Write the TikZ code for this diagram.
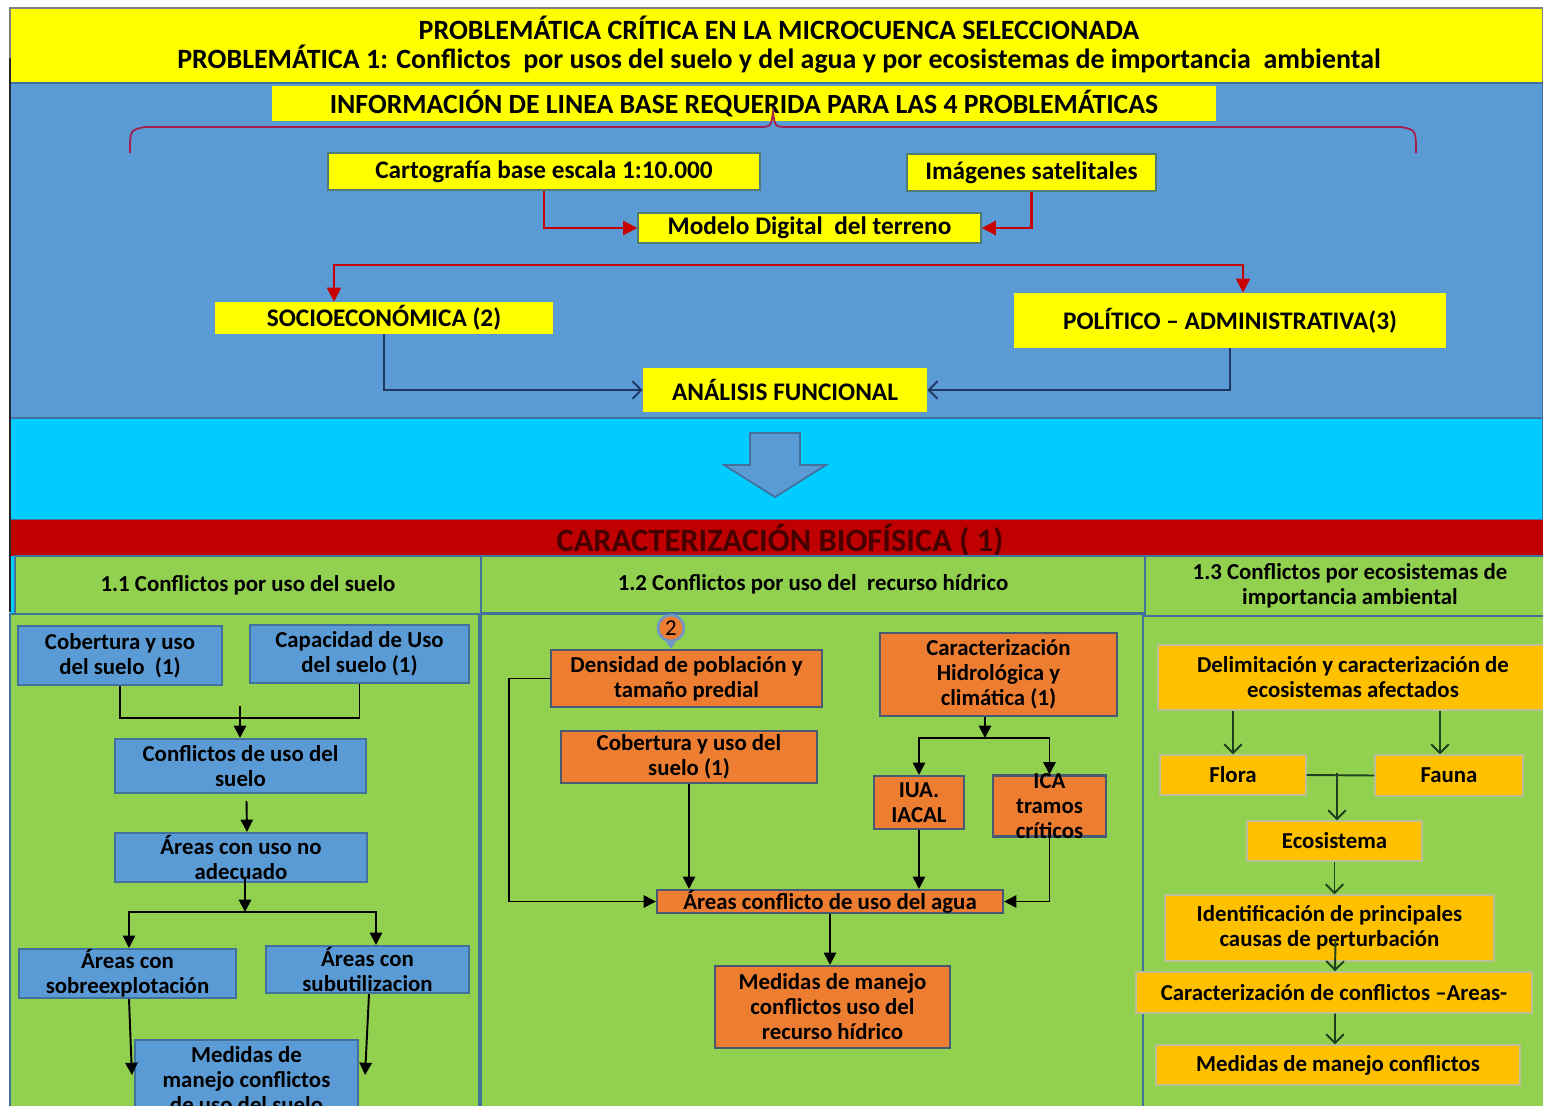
\documentclass[tikz,border=0pt]{standalone}
\usepackage{fontspec}
\setmainfont{Carlito}
\usetikzlibrary{arrows.meta}
\definecolor{bandyellow}{RGB}{255,255,0}
\definecolor{regionblue}{RGB}{91,155,213}
\definecolor{edgeblue}{RGB}{65,113,156}
\definecolor{tealedge}{RGB}{80,125,115}
\definecolor{skycyan}{RGB}{0,204,255}
\definecolor{bandred}{RGB}{192,0,0}
\definecolor{titlered}{RGB}{70,0,0}
\definecolor{leafgreen}{RGB}{146,208,80}
\definecolor{waterorange}{RGB}{237,125,49}
\definecolor{slateedge}{RGB}{70,90,115}
\definecolor{ringblue}{RGB}{110,150,200}
\definecolor{ecogold}{RGB}{255,192,0}
\definecolor{goldedge}{RGB}{190,190,150}
\definecolor{bracered}{RGB}{165,30,75}
\definecolor{arrowred}{RGB}{200,0,0}
\definecolor{navyline}{RGB}{31,56,100}
\definecolor{ecodark}{RGB}{30,65,30}

\begin{document}
\begin{tikzpicture}[
    x=0.02cm, y=-0.02cm,
    font=\bfseries\fontsize{13}{14.2}\selectfont,
    sz/.style 2 args={minimum width=#1*0.02cm, minimum height=#2*0.02cm},
    plainbox/.style={inner sep=0pt, align=center, text=black},
    ybox/.style={plainbox, fill=bandyellow, draw=tealedge, line width=0.8pt, font=\bfseries\fontsize{14.4}{15.5}\selectfont},
    ybare/.style={plainbox, fill=bandyellow, font=\bfseries\fontsize{14.4}{15.5}\selectfont},
    colhead/.style={plainbox, fill=leafgreen, draw=edgeblue, line width=1pt},
    bbox/.style={plainbox, fill=regionblue, draw=edgeblue, line width=1.2pt},
    obox/.style={plainbox, fill=waterorange, draw=slateedge, line width=1.2pt},
    gbox/.style={plainbox, fill=ecogold, draw=goldedge, line width=0.8pt},
    redarrow/.style={-{Triangle[length=8pt,width=8pt]}, draw=arrowred, line width=1.2pt},
    navyarrow/.style={-{Straight Barb[length=5pt,width=10pt]}, draw=navyline, line width=1.1pt},
    blkline/.style={draw=black, line width=1.1pt},
    blkarrow/.style={blkline, -{Triangle[length=7pt,width=7pt]}},
    ecoline/.style={draw=ecodark, line width=1.1pt},
    ecoarrow/.style={ecoline, -{Straight Barb[length=5pt,width=10pt]}},
]
\useasboundingbox (0,0) rectangle (1543,1106);

% ------------------------------------------------------------ title band ---
\filldraw[fill=bandyellow, draw=gray, line width=0.8pt] (10,8) rectangle (1543,83);
\node[plainbox, font=\bfseries\fontsize{15.9}{16.6}\selectfont] (title) at (779,45)
  {PROBLEMÁTICA CRÍTICA EN LA MICROCUENCA SELECCIONADA\\
   PROBLEMÁTICA 1: Conflictos\ \ por usos del suelo y del agua y por ecosistemas de importancia\ \ ambiental};

% ------------------------------------------------------ base information ---
\filldraw[fill=regionblue, draw=edgeblue, line width=1pt] (10,83) rectangle (1543,418);
\node[ybare, sz={944}{35}, font=\bfseries\fontsize{15.8}{16}\selectfont] (info) at (744,103.5)
  {INFORMACIÓN DE LINEA BASE REQUERIDA PARA LAS 4 PROBLEMÁTICAS};
\draw[bracered, line width=1pt] (130,153) .. controls (130,130) .. (145,127) -- (758,127)
  .. controls (771,127) .. (773,112) .. controls (775,127) .. (788,127) -- (1401,127)
  .. controls (1416,130) .. (1416,153);

\node[ybox, sz={432}{37}] (carto) at (544,171.5) {Cartografía base escala 1:10.000};
\node[ybox, sz={249}{37}] (sat) at (1031.5,172.5) {Imágenes satelitales};
\node[ybox, sz={343}{30}] (mdt) at (809.5,228) {Modelo Digital\ \ del terreno};
\draw[redarrow] (carto.south) |- (mdt.west);
\draw[redarrow] (sat.south) |- (mdt.east);

\node[ybare, sz={338}{32}] (soc) at (384,318) {SOCIOECONÓMICA (2)};
\node[ybare, sz={432}{55}] (pol) at (1230,320.5) {POLÍTICO – ADMINISTRATIVA(3)};
\coordinate (fork) at (788,265);
\draw[redarrow] (fork) -| ([xshift=-1cm]soc.north);
\draw[redarrow] (fork) -| ([xshift=0.26cm]pol.north);

\node[ybare, sz={284}{44}] (anal) at (785,390) {ANÁLISIS FUNCIONAL};
\draw[navyarrow] (soc.south) |- (anal.west);
\draw[navyarrow] (pol.south) |- (anal.east);

% ------------------------------------------------------------- cyan band ---
\filldraw[fill=skycyan, draw=edgeblue, line width=1pt] (10,418) rectangle (1543,520);
\filldraw[fill=regionblue, draw=edgeblue, line width=1pt] (750,433) -- (800,433) -- (800,465)
  -- (826,465) -- (775,497) -- (724,465) -- (750,465) -- cycle;

% -------------------------------------------------------------- red band ---
\fill[bandred] (10,520) rectangle (1543,556);
\node[plainbox, text=titlered, font=\bfseries\fontsize{18.5}{18.5}\selectfont] (biof) at (780,540)
  {CARACTERIZACIÓN BIOFÍSICA ( 1)};

% ------------------------------------------------------------ the panels ---
\fill[skycyan] (10,556) rectangle (15,614);
\filldraw[fill=leafgreen, draw=edgeblue, line width=1pt] (10,614) rectangle (479,1112);
\filldraw[fill=leafgreen, draw=edgeblue, line width=1pt] (481,614) rectangle (1143,1112);
\filldraw[fill=leafgreen, draw=edgeblue, line width=1pt] (1143,616) rectangle (1545,1112);
\node[colhead, sz={466}{58}] (h11) at (248,585) {1.1 Conflictos por uso del suelo};
\node[colhead, sz={664}{57}] (h12) at (813,584.5) {1.2 Conflictos por uso del\ \ recurso hídrico};
\node[colhead, sz={410}{60}] (h13) at (1350,586) {1.3 Conflictos por ecosistemas de\\importancia ambiental};
\draw[line width=1.5pt, black!85] (10,58) -- (10,612);

% ------------------------------------------------------ 1.1 soil branch ---
\node[bbox, sz={204}{59}] (c1cob) at (120,655.5) {Cobertura y uso\\del suelo\ \ (1)};
\node[bbox, sz={219}{58}] (c1cap) at (359.5,654) {Capacidad de Uso\\del suelo (1)};
\node[bbox, sz={251}{54}] (c1conf) at (240.5,766) {Conflictos de uso del\\suelo};
\node[bbox, sz={252}{49}] (c1inad) at (241,857.5) {Áreas con uso no\\adecuado};
\node[bbox, sz={217}{49}] (c1sob) at (127.5,973.5) {Áreas con\\sobreexplotación};
\node[bbox, sz={203}{47}] (c1sub) at (367.5,969.5) {Áreas con\\subutilizacion};
\node[bbox, sz={223}{80}] (c1med) at (246.5,1080) {Medidas de\\manejo conflictos\\de uso del suelo};

\draw[blkline] (c1cob.south) -- ++(0,32) -| (c1cap.south);
\coordinate (j1) at (240,706);
\draw[blkarrow] (j1) -- (j1 |- c1conf.north);
\draw[blkarrow] ([shift={(6,7)}]c1conf.south) -- ([xshift=0.12cm]c1inad.north);
\coordinate (j2) at (245,912);
\draw[blkarrow] ([shift={(4,-4)}]c1inad.south) -- (j2);
\draw[blkarrow] (j2) -| ([xshift=0.03cm]c1sob.north);
\draw[blkarrow] (j2) -| ([xshift=0.17cm]c1sub.north);
\draw[blkarrow] ([xshift=0.03cm]c1sob.south) -- ([shift={(-2,-5)}]c1med.west);
\draw[blkarrow] ([xshift=0.03cm]c1sub.south) -- ([shift={(6,-5)}]c1med.east);

% ----------------------------------------------------- 1.2 water branch ---
\node[circle, fill=waterorange, draw=ringblue, line width=1.5pt, inner sep=0pt, minimum size=0.52cm,
  font=\mdseries\fontsize{13}{13}\selectfont] (c2num) at (671,628) {2};
\node[obox, sz={271}{57}] (c2den) at (686.5,678.5) {Densidad de población y\\tamaño predial};
\draw[-{Triangle[length=4pt,width=5pt]}, ringblue, line width=1pt] (c2num.south) -- (c2num.south |- c2den.north);
\node[obox, sz={256}{52}] (c2cob) at (689,757) {Cobertura y uso del\\suelo (1)};
\node[obox, sz={237}{83}] (c2hid) at (998.5,674.5) {Caracterización\\Hidrológica y\\climática (1)};
\node[obox, sz={90}{53}, inner ysep=-0.1cm] (c2iua) at (919,802.5) {IUA.\\IACAL};
\node[obox, sz={113}{61}, inner ysep=-0.2cm] (c2ica) at (1049.5,806) {ICA\\tramos\\críticos};
\node[obox, sz={346}{23}, inner ysep=-0.1cm] (c2are) at (830,901.5) {Áreas conflicto de uso del agua};
\node[obox, sz={235}{82}] (c2med) at (832.5,1007) {Medidas de manejo\\conflictos uso del\\recurso hídrico};

\draw[blkarrow] (c2den.west) -- ++(-41,0) |- (c2are.west);
\draw[blkarrow] (c2cob.south) -- (c2cob.south |- c2are.north);
\coordinate (j3) at (985,738);
\draw[blkarrow] ([xshift=-0.27cm]c2hid.south) -- (j3);
\draw[blkarrow] (j3) -| (c2iua.north);
\draw[blkarrow] (j3) -| (c2ica.north);
\draw[blkarrow] (c2iua.south) -- (c2iua.south |- c2are.north);
\draw[blkarrow] (c2ica.south) |- (c2are.east);
\draw[blkarrow] (c2are.south) -- (c2are.south |- c2med.north);

% ------------------------------------------------- 1.3 ecosystem branch ---
\node[gbox, sz={390}{65}] (c3del) at (1353,677.5) {Delimitación y caracterización de\\ecosistemas afectados};
\node[gbox, sz={146}{40}] (c3flo) at (1233,775) {Flora};
\node[gbox, sz={148}{41}] (c3fau) at (1449,775.5) {Fauna};
\node[gbox, sz={175}{40}] (c3eco) at (1334.5,841) {Ecosistema};
\node[gbox, sz={329}{66}] (c3ide) at (1329.5,928) {Identificación de principales\\causas de perturbación};
\node[gbox, sz={396}{41}] (c3car) at (1334,992.5) {Caracterización de conflictos –Areas-};
\node[gbox, sz={364}{40}] (c3med) at (1338,1065) {Medidas de manejo conflictos};

\draw[ecoarrow] (c3flo.north |- c3del.south) -- (c3flo.north);
\draw[ecoarrow] ([xshift=-0.18cm]c3fau.north |- c3del.south) -- ([xshift=-0.18cm]c3fau.north);
\draw[ecoline] (c3flo.east) -- (c3fau.west);
\coordinate (j4) at (1337,773);
\draw[ecoarrow] (j4) -- (j4 |- c3eco.north);
\draw[ecoarrow] (c3eco.south) -- (c3eco.south |- c3ide.north);
\draw[ecoarrow] ([shift={(6,-22)}]c3ide.south) -- ([xshift=0.02cm]c3car.north);
\draw[ecoarrow] ([xshift=0.02cm]c3car.south) -- ([xshift=-0.06cm]c3med.north);

\end{tikzpicture}
\end{document}
